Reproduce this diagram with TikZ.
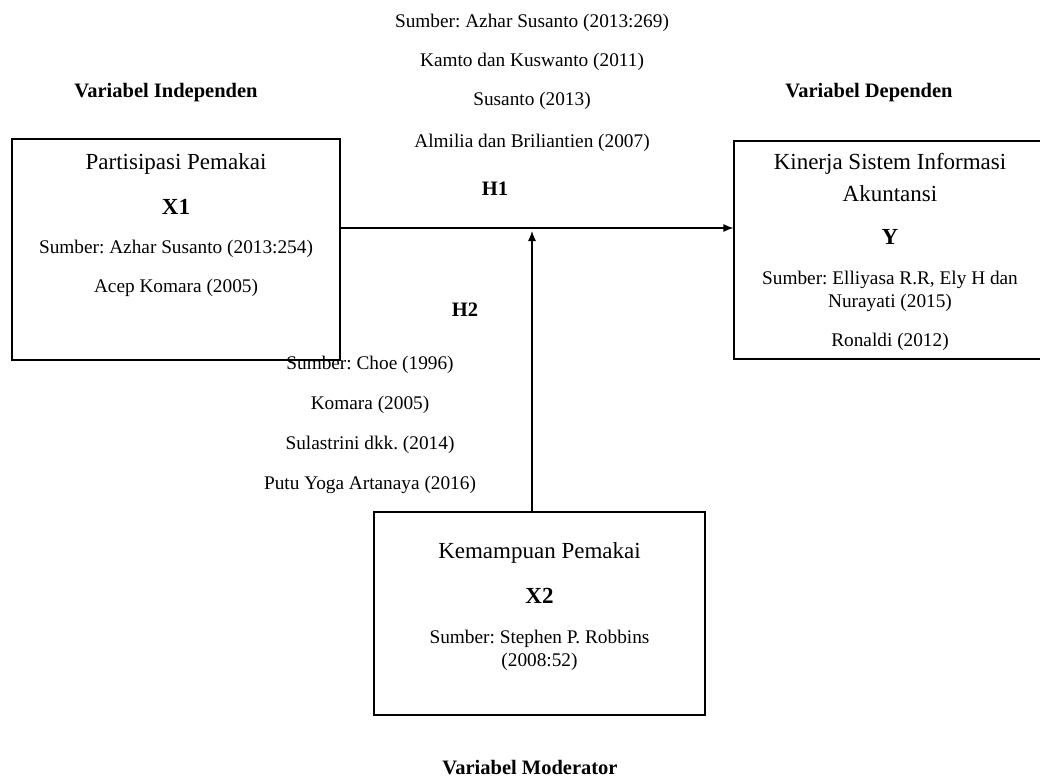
\documentclass[tikz,border=0pt]{standalone}
\usepackage{fontspec}
\setmainfont{Liberation Serif}
\usetikzlibrary{arrows.meta}
\frenchspacing

\tikzset{
  kotak/.style={draw, line width=1.2pt, inner sep=0pt},
  isi/.style={anchor=base, font=\fontsize{19.3}{22}\selectfont},
  judul/.style={anchor=base, font=\fontsize{23}{27}\selectfont},
  kode/.style={anchor=base, font=\bfseries\fontsize{23}{27}\selectfont},
  label/.style={anchor=base, font=\bfseries\fontsize{20.5}{24}\selectfont},
  panah/.style={line width=1.2pt, -{Latex[length=10pt,width=8pt]}}
}

\begin{document}
\begin{tikzpicture}[x=1pt,y=-1pt]
\useasboundingbox (0,0) rectangle (1040,781);

% kotak variabel
\node[kotak, minimum width=328pt, minimum height=221pt] (x1) at (176,249.5) {};
\node[kotak, minimum width=312pt, minimum height=218pt] (y) at (890,250) {};
\node[kotak, minimum width=331pt, minimum height=203pt] (x2) at (539.5,613.5) {};

% judul variabel
\node[label] (ind) at (166,98) {Variabel Independen};
\node[label] (dep) at (869,98) {Variabel Dependen};
\node[label] (mod) at (530,774) {Variabel Moderator};

% isi X1
\node[judul] (x1a) at (176,169) {Partisipasi Pemakai};
\node[kode] (x1b) at (176,214) {X1};
\node[isi] (x1c) at (176,253) {Sumber: Azhar Susanto (2013:254)};
\node[isi] (x1d) at (176,292) {Acep Komara (2005)};

% isi Y
\node[judul] (ya) at (890,169) {Kinerja Sistem Informasi};
\node[judul] (yb) at (890,201) {Akuntansi};
\node[kode] (yc) at (890,244) {Y};
\node[isi] (yd) at (890,284) {Sumber: Elliyasa R.R, Ely H dan};
\node[isi] (ye) at (890,307) {Nurayati (2015)};
\node[isi] (yf) at (890,346) {Ronaldi (2012)};

% isi X2
\node[judul] (x2a) at (539.5,558) {Kemampuan Pemakai};
\node[kode] (x2b) at (539.5,603) {X2};
\node[isi] (x2c) at (539.5,643) {Sumber: Stephen P. Robbins};
\node[isi] (x2d) at (539.5,666) {(2008:52)};

% sumber H1
\node[isi] (s1) at (532,28) {Sumber: Azhar Susanto (2013:269)};
\node[isi] (s2) at (532,67) {Kamto dan Kuswanto (2011)};
\node[isi] (s3) at (532,106) {Susanto (2013)};
\node[isi] (s4) at (532,147) {Almilia dan Briliantien (2007)};
\node[label] (h1) at (495,195) {H1};

% sumber H2
\node[label] (h2) at (465,316) {H2};
\node[isi] (t1) at (370,369) {Sumber: Choe (1996)};
\node[isi] (t2) at (370,409) {Komara (2005)};
\node[isi] (t3) at (370,449) {Sulastrini dkk. (2014)};
\node[isi] (t4) at (370,489) {Putu Yoga Artanaya (2016)};

% panah
\coordinate (m) at (532,228);
\draw[panah] (x1.east |- m) -- (y.west |- m);
\draw[panah] (x2.north -| m) -- ([yshift=-3pt]m);
\end{tikzpicture}
\end{document}
